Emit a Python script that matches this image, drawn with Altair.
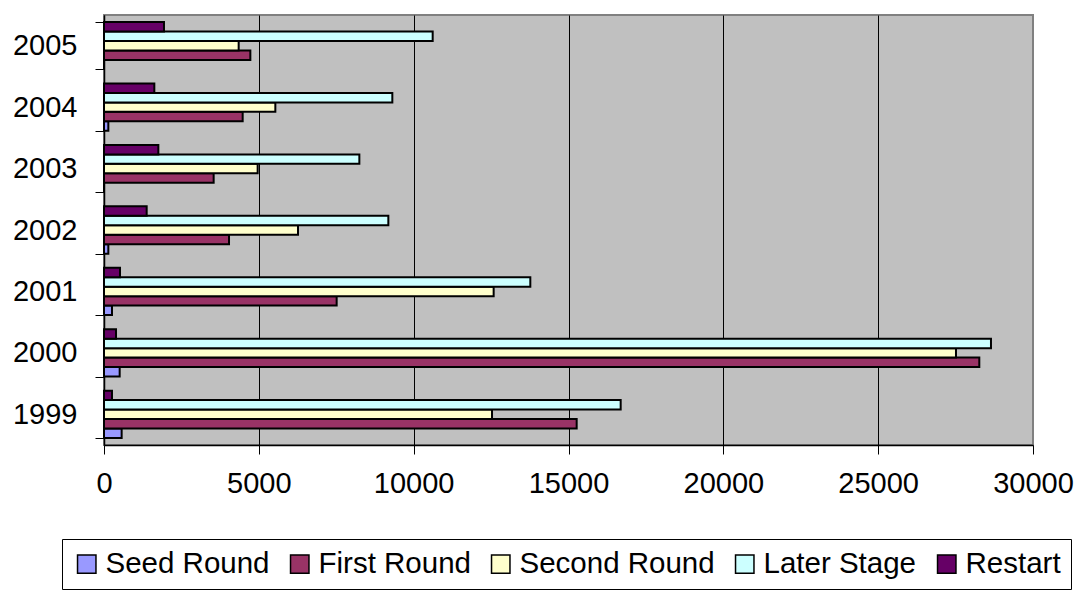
import altair as alt
import pandas as pd

# Venture investment by financing stage, 1999-2005
years = ["1999", "2000", "2001", "2002", "2003", "2004", "2005"]
stages = ["Seed Round", "First Round", "Second Round", "Later Stage", "Restart"]
stage_colors = ["#9999FF", "#993366", "#FFFFCC", "#CCFFFF", "#660066"]

seed_round = [570, 506, 258, 140, 0, 140, 0]
first_round = [15264, 28266, 7513, 4037, 3541, 4478, 4726]
second_round = [12530, 27513, 12583, 6265, 4962, 5533, 4349]
later_stage = [16685, 28643, 13767, 9182, 8246, 9311, 10614]
restart = [258, 388, 517, 1378, 1755, 1625, 1937]

x_ticks = [0, 5000, 10000, 15000, 20000, 25000, 30000]

series = [seed_round, first_round, second_round, later_stage, restart]
rows = []
for stage, values in zip(stages, series):
    for year, v in zip(years, values):
        rows.append({"year": year, "stage": stage, "amount": v})
df = pd.DataFrame(rows)

font = "Liberation Sans"

bars = alt.Chart(df).mark_bar(stroke="black", strokeWidth=2).encode(
    x=alt.X(
        "amount:Q",
        scale=alt.Scale(domain=[0, 30000], nice=False, zero=True),
        axis=alt.Axis(
            title=None,
            values=x_ticks,
            format="d",
            grid=True,
            gridColor=alt.ExprRef("datum.value >= 30000 ? '#808080' : 'black'"),
            gridWidth=1,
            domainColor="black",
            domainWidth=1.5,
            tickColor="black",
            tickSize=9,
            labelFont=font,
            labelFontSize=29,
            labelColor="black",
            labelPadding=15,
            labelFlush=False,
            labelOverlap=False,
        ),
    ),
    y=alt.Y(
        "year:N",
        sort=years[::-1],
        scale=alt.Scale(paddingInner=0.23, paddingOuter=0.115),
        axis=alt.Axis(
            title=None,
            tickBand="extent",
            domainColor="black",
            domainWidth=1.5,
            tickColor="black",
            tickSize=9,
            labelFont=font,
            labelFontSize=29,
            labelColor="black",
            labelPadding=18,
        ),
    ),
    yOffset=alt.YOffset(
        "stage:N",
        sort=stages[::-1],
        scale=alt.Scale(paddingInner=0, paddingOuter=0),
    ),
    fill=alt.Fill(
        "stage:N",
        scale=alt.Scale(domain=stages, range=stage_colors),
        legend=alt.Legend(
            title=None,
            orient="none",
            legendX=-42,
            legendY=524,
            direction="horizontal",
            columns=5,
            strokeColor="black",
            padding=10,
            symbolType="square",
            symbolSize=340,
            symbolStrokeColor="black",
            symbolStrokeWidth=1.5,
            symbolOpacity=1,
            labelFont=font,
            labelFontSize=29.5,
            labelColor="black",
            labelOffset=4,
            labelLimit=0,
            columnPadding=15,
        ),
    ),
)

chart = bars.properties(
    width=929,
    height=430,
    autosize=alt.AutoSizeParams(type="none"),
    padding={"left": 104, "top": 15, "right": 49, "bottom": 145},
    background="white",
).configure_view(
    fill="#C0C0C0",
    stroke="#808080",
    strokeWidth=2,
)

chart.save("out.html", embed_options={"renderer": "svg", "actions": False})
